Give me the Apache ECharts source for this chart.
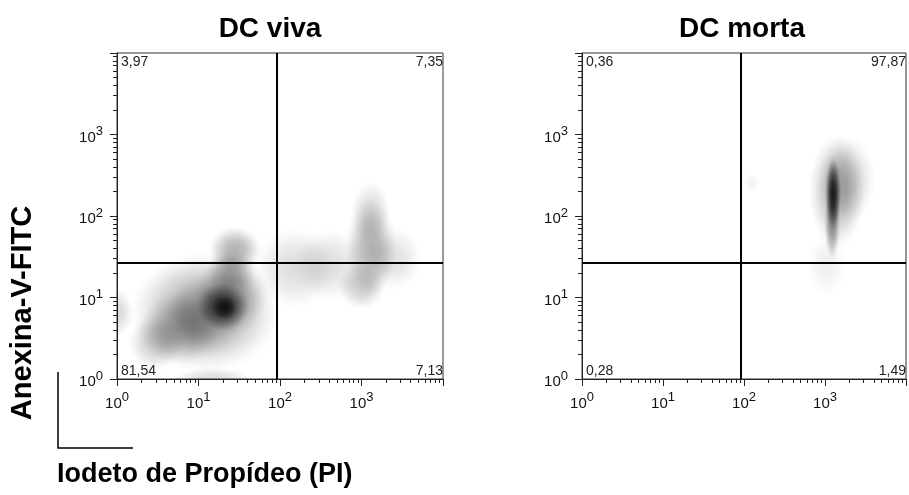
<!DOCTYPE html>
<html><head><meta charset="utf-8">
<script src="https://cdn.jsdelivr.net/npm/echarts@6/dist/echarts.min.js"></script>
<style>html,body{margin:0;padding:0;background:#fff}#c{width:909px;height:495px}</style>
</head><body><div id="c"></div>
<script>
// ---- text ----
const panelTitles = ['DC viva', 'DC morta'];
const yAxisTitle = 'Anexina-V-FITC';
const xAxisTitle = 'Iodeto de Propídeo (PI)';
const axisExponents = ['0', '1', '2', '3'];   // tick labels 10^0 .. 10^3
const axisMin = 1, axisMax = 10000;

// ---- quadrant gates [PI, Annexin] ----
const vivaGate = [90, 27];
const mortaGate = [92, 27];

// ---- quadrant percentages: top-left, top-right, bottom-left, bottom-right ----
const vivaQuadrants = ['3,97', '7,35', '81,54', '7,13'];
const mortaQuadrants = ['0,36', '97,87', '0,28', '1,49'];

// ---- density clusters (DC viva) ----
const vivaPI        = [12, 3, 6, 12, 25, 20, 21, 28, 25, 1.02, 15, 150, 400, 1000, 1300, 1300, 2500];
const vivaAnx       = [6.6, 2.8, 4.2, 6, 11, 7.7, 7.5, 38, 20, 6.5, 1.0, 23, 25, 14, 40, 110, 30];
const vivaSpreadPI  = [0.92, 0.35, 0.5, 0.5, 0.45, 0.33, 0.16, 0.33, 0.3, 0.2, 0.5, 0.5, 0.45, 0.3, 0.32, 0.25, 0.35];
const vivaSpreadAnx = [0.74, 0.35, 0.45, 0.5, 0.5, 0.3, 0.15, 0.3, 0.3, 0.3, 0.15, 0.5, 0.45, 0.3, 0.6, 0.4, 0.4];
const vivaDensity   = [0.35, 0.2, 0.25, 0.2, 0.3, 0.65, 0.6, 0.3, 0.2, 0.15, 0.14, 0.13, 0.13, 0.2, 0.3, 0.15, 0.12];

// ---- density clusters (DC morta) ----
const mortaPI        = [1260, 1230, 1400, 1900, 1050, 125];
const mortaAnx       = [190, 80, 200, 280, 25, 250];
const mortaSpreadPI  = [0.1, 0.1, 0.35, 0.35, 0.25, 0.1];
const mortaSpreadAnx = [0.45, 0.45, 0.7, 0.55, 0.4, 0.12];
const mortaDensity   = [0.85, 0.4, 0.3, 0.18, 0.06, 0.05];

// ---------------------------------------------------------------
const FONT = '"Liberation Sans", Arial, sans-serif';
const minorLogTicks = [];
for (let k = 0; k < 4; k++) for (let m = 2; m <= 9; m++) minorLogTicks.push(k + Math.log10(m));

function zip(a, b, c, d, e) { return a.map((v, i) => [v, b[i], c[i], d[i], e[i]]); }

function logLabel(v) {
  const e = Math.round(Math.log10(v));
  return e < axisExponents.length ? '{b|10}{s|' + axisExponents[e] + '}' : '';
}
const richTick = {
  b: { fontSize: 15, lineHeight: 15, verticalAlign: 'bottom', fontFamily: FONT, color: '#111' },
  s: { fontSize: 13, lineHeight: 13, padding: [0, 0, 7, 0], verticalAlign: 'bottom', fontFamily: FONT, color: '#111' }
};

function mainX(gi) {
  return { gridIndex: gi, type: 'log', logBase: 10, min: axisMin, max: axisMax, position: 'bottom',
    axisLine: { onZero: false, lineStyle: { color: '#222', width: 1 } },
    axisTick: { length: 7, lineStyle: { color: '#222' } },
    axisLabel: { margin: 17, formatter: logLabel, rich: richTick, showMaxLabel: true },
    splitLine: { show: false } };
}
function minorX(gi) {
  return { gridIndex: gi, type: 'value', min: 0, max: 4, position: 'bottom',
    axisLine: { show: false, onZero: false }, axisLabel: { show: false }, splitLine: { show: false },
    axisTick: { show: true, length: 4, customValues: minorLogTicks, lineStyle: { color: '#222' } } };
}
function mainY(gi) {
  return { gridIndex: gi, type: 'log', logBase: 10, min: axisMin, max: axisMax, position: 'left',
    axisLine: { onZero: false, lineStyle: { color: '#222', width: 1 } },
    axisTick: { length: 7, lineStyle: { color: '#222' } },
    axisLabel: { margin: 14, formatter: logLabel, rich: richTick, padding: [6, 0, 0, 0] },
    splitLine: { show: false } };
}
function minorY(gi) {
  return { gridIndex: gi, type: 'value', min: 0, max: 4, position: 'left',
    axisLine: { show: false, onZero: false }, axisLabel: { show: false }, splitLine: { show: false },
    axisTick: { show: true, length: 4, customValues: minorLogTicks, lineStyle: { color: '#222' } } };
}

function densitySeries(gi, data) {
  return {
    type: 'custom', xAxisIndex: gi * 2, yAxisIndex: gi * 2, clip: true, silent: true,
    encode: { x: 0, y: 1 }, data: data, z: 1,
    renderItem: function (params, api) {
      const x = api.value(0), y = api.value(1), sx = api.value(2), sy = api.value(3), a = api.value(4);
      const c = api.coord([x, y]);
      const rx = Math.abs(api.coord([x * Math.pow(10, sx), y])[0] - c[0]);
      const ry = Math.abs(api.coord([x, y * Math.pow(10, sy)])[1] - c[1]);
      const R = 100;
      const col = t => 'rgba(0,0,0,' + (a * t).toFixed(4) + ')';
      return {
        type: 'circle', x: c[0], y: c[1], scaleX: rx / R, scaleY: ry / R,
        shape: { cx: 0, cy: 0, r: R },
        style: { fill: { type: 'radial', x: 0.5, y: 0.5, r: 0.5, colorStops: [
          { offset: 0, color: col(1) }, { offset: 0.35, color: col(0.82) },
          { offset: 0.6, color: col(0.5) }, { offset: 0.8, color: col(0.2) },
          { offset: 0.92, color: col(0.06) }, { offset: 1, color: col(0) } ] } }
      };
    }
  };
}

function gateSeries(gi, gate) {
  return {
    type: 'line', xAxisIndex: gi * 2, yAxisIndex: gi * 2, data: [gate], symbol: 'none',
    lineStyle: { opacity: 0 }, z: 3, silent: true,
    markLine: { silent: true, symbol: 'none', animation: false, label: { show: false },
      lineStyle: { color: '#000', width: 2, type: 'solid' },
      data: [{ xAxis: gate[0] }, { yAxis: gate[1] }] }
  };
}

function quadrantSeries(gi, texts) {
  return {
    type: 'custom', xAxisIndex: gi * 2, yAxisIndex: gi * 2, clip: false, silent: true, z: 4,
    data: texts.map(() => [axisMin, axisMin]), encode: { x: 0, y: 1 },
    renderItem: function (params, api) {
      const cs = params.coordSys;
      const i = params.dataIndex;
      const left = i % 2 === 0, top = i < 2;
      return {
        type: 'text',
        x: left ? cs.x + 4 : cs.x + cs.width,
        y: top ? cs.y + 2 : cs.y + cs.height - 1,
        style: { text: texts[i], fill: '#222', fontSize: 14, fontFamily: FONT,
          align: left ? 'left' : 'right', verticalAlign: top ? 'top' : 'bottom' }
      };
    }
  };
}

const chart = echarts.init(document.getElementById('c'), null, { renderer: 'canvas' });
chart.setOption({
  animation: false,
  backgroundColor: '#fff',
  grid: [
    { left: 117, top: 53, width: 326, height: 326, show: true, borderColor: '#333', borderWidth: 1, backgroundColor: 'transparent' },
    { left: 582, top: 53, width: 328, height: 326, show: true, borderColor: '#333', borderWidth: 1, backgroundColor: 'transparent' }
  ],
  xAxis: [mainX(0), minorX(0), mainX(1), minorX(1)],
  yAxis: [mainY(0), minorY(0), mainY(1), minorY(1)],
  series: [
    densitySeries(0, zip(vivaPI, vivaAnx, vivaSpreadPI, vivaSpreadAnx, vivaDensity)),
    densitySeries(1, zip(mortaPI, mortaAnx, mortaSpreadPI, mortaSpreadAnx, mortaDensity)),
    gateSeries(0, vivaGate), gateSeries(1, mortaGate),
    quadrantSeries(0, vivaQuadrants), quadrantSeries(1, mortaQuadrants)
  ],
  graphic: [
    { type: 'text', x: 270, y: 15, style: { text: panelTitles[0], font: 'bold 28px ' + FONT, fill: '#000', align: 'center', verticalAlign: 'top' } },
    { type: 'text', x: 742, y: 15, style: { text: panelTitles[1], font: 'bold 28px ' + FONT, fill: '#000', align: 'center', verticalAlign: 'top' } },
    { type: 'text', x: 23, y: 313, rotation: Math.PI / 2, style: { text: yAxisTitle, font: 'bold 29px ' + FONT, fill: '#000', align: 'center', verticalAlign: 'middle' } },
    { type: 'text', x: 57, y: 475, style: { text: xAxisTitle, font: 'bold 27px ' + FONT, fill: '#000', align: 'left', verticalAlign: 'middle' } },
    { type: 'polyline', shape: { points: [[58, 372], [58, 448], [133, 448]] }, style: { stroke: '#000', lineWidth: 1.5, fill: null } }
  ]
});
</script></body></html>
